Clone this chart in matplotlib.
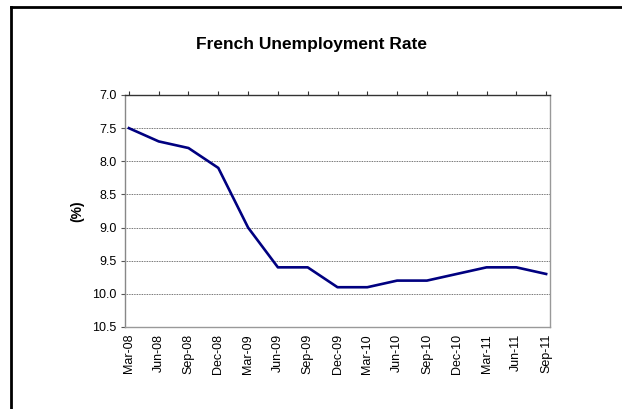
import matplotlib
matplotlib.use("Agg")
import matplotlib.pyplot as plt
from matplotlib.lines import Line2D

plt.rcParams['font.family'] = ['Liberation Sans', 'DejaVu Sans']

quarters = ["Mar-08", "Jun-08", "Sep-08", "Dec-08", "Mar-09", "Jun-09", "Sep-09",
            "Dec-09", "Mar-10", "Jun-10", "Sep-10", "Dec-10", "Mar-11", "Jun-11", "Sep-11"]
rate = [7.5, 7.7, 7.8, 8.1, 9.0, 9.6, 9.6, 9.9, 9.9, 9.8, 9.8, 9.7, 9.6, 9.6, 9.7]
y_ticks = [7.0, 7.5, 8.0, 8.5, 9.0, 9.5, 10.0, 10.5]

fig = plt.figure(figsize=(6.22, 4.09), dpi=100)
fig.patch.set_facecolor("white")

# outer chart frame (top and left edges)
W, H = 622, 409
fig.add_artist(Line2D([11 / W, 11 / W], [0, 1 - 7 / H], transform=fig.transFigure,
                      color="black", lw=2.0))
fig.add_artist(Line2D([11 / W, 1], [1 - 7 / H, 1 - 7 / H], transform=fig.transFigure,
                      color="black", lw=2.0))

ax = fig.add_axes([125 / W, 1 - 327 / H, (550 - 125) / W, (327 - 95) / H])
x = list(range(len(quarters)))
ax.plot(x, rate, color="#000080", lw=1.9, solid_joinstyle="round", zorder=3)

ax.set_xlim(-0.13, len(quarters) - 1 + 0.13)
ax.set_ylim(10.5, 7.0)
ax.set_yticks(y_ticks)
ax.set_yticklabels([f"{v:.1f}" for v in y_ticks], fontsize=9)
ax.set_xticks(x)
ax.set_xticklabels(quarters, rotation=90, fontsize=9)

ax.tick_params(axis="x", top=True, bottom=False, labeltop=False, labelbottom=True,
               direction="out", length=3, width=0.8, color="#333333", pad=2)
ax.tick_params(axis="y", direction="out", length=3, width=0.8, color="#555555", pad=3)

for yv in y_ticks[1:-1]:
    ax.axhline(yv, color="#444444", lw=0.6, ls=(0, (1, 1)), zorder=1)

ax.spines["top"].set_color("#333333")
ax.spines["top"].set_linewidth(1.0)
ax.spines["left"].set_color("#888888")
ax.spines["left"].set_linewidth(1.0)
ax.spines["right"].set_color("#999999")
ax.spines["bottom"].set_color("#999999")
ax.spines["right"].set_linewidth(1.0)
ax.spines["bottom"].set_linewidth(1.0)

ax.set_ylabel("(%)", fontsize=10, fontweight="bold", labelpad=6)

fig.text(311 / W, 1 - 45 / H, "French Unemployment Rate", ha="center", va="center",
         fontsize=12.5, fontweight="bold")

fig.savefig("out.png", dpi=100, facecolor="white")
